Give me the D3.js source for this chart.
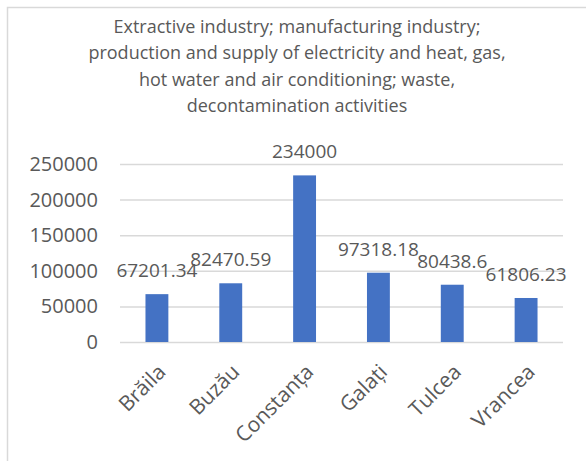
<!DOCTYPE html>
<html><head><meta charset="utf-8">
<script src="https://cdn.jsdelivr.net/npm/d3@7"></script>
<style>html,body{margin:0;padding:0;background:#fff;}svg{display:block;}</style>
</head><body>
<svg id="c" width="586" height="461"></svg>
<script>
const categories = ["Brăila","Buzău","Constanța","Galați","Tulcea","Vrancea"];
const values = [67201.34, 82470.59, 234000, 97318.18, 80438.6, 61806.23];
const valueLabels = ["67201.34","82470.59","234000","97318.18","80438.6","61806.23"];
const yTicks = [0,50000,100000,150000,200000,250000];
const titleLines = ["Extractive industry; manufacturing industry;",
  "production and supply of electricity and heat, gas,",
  "hot water and air conditioning; waste,",
  "decontamination activities"];

const FONT = "'Open Sans', sans-serif";
const TXT = "#595959";
const svg = d3.select("#c");
svg.append("rect").attr("x",7.5).attr("y",7.5).attr("width",700).attr("height",700)
  .attr("fill","#fff").attr("stroke","#d9d9d9").attr("stroke-width",1.5);

const m = {left:120, right:563, top:164, bottom:342};
const x = d3.scaleBand().domain(categories).range([m.left,m.right]).paddingInner(0.69).paddingOuter(0.345);
const y = d3.scaleLinear().domain([0,250000]).range([m.bottom,m.top]);

svg.append("g").selectAll("text").data(titleLines).join("text")
  .attr("x",297).attr("y",(d,i)=>32.5+i*26.5).attr("text-anchor","middle")
  .attr("font-family",FONT).attr("font-size",18).attr("fill",TXT).text(d=>d);

const ya = svg.append("g").attr("transform",`translate(${m.left},0)`)
  .call(d3.axisLeft(y).tickValues(yTicks).tickSize(-(m.right-m.left)).tickPadding(22).tickFormat(d3.format("d")));
ya.select(".domain").remove();
ya.selectAll("line").attr("stroke","#d9d9d9").attr("stroke-width",1.5);
ya.selectAll("text").attr("font-family",FONT).attr("font-size",20).attr("fill",TXT);

svg.append("g").selectAll("rect").data(values).join("rect")
  .attr("x",(d,i)=>x(categories[i])).attr("width",x.bandwidth())
  .attr("y",d=>y(d)).attr("height",d=>y(0)-y(d)).attr("fill","#4472c4");

svg.append("g").selectAll("text").data(values).join("text")
  .attr("x",(d,i)=>x(categories[i])+x.bandwidth()/2).attr("y",d=>y(d)-17)
  .attr("text-anchor","middle").attr("font-family",FONT).attr("font-size",19).attr("fill",TXT)
  .text((d,i)=>valueLabels[i]);

const xa = svg.append("g").attr("transform",`translate(0,${m.bottom})`)
  .call(d3.axisBottom(x).tickSize(0).tickPadding(0));
xa.select(".domain").remove();
xa.selectAll("text").attr("font-family",FONT).attr("font-size",21).attr("fill",TXT)
  .attr("text-anchor","end").attr("dy","0.35em")
  .attr("transform","translate(5,26) rotate(-45)");
</script>
</body></html>
